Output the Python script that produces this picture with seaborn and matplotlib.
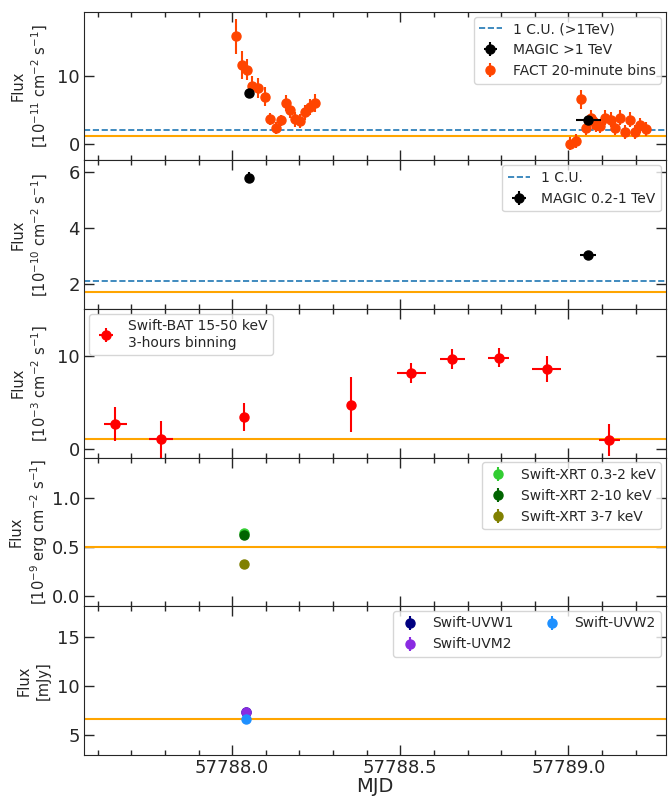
import numpy as np
import pandas as pd
import seaborn as sns
import matplotlib
matplotlib.use('Agg')
import matplotlib.pyplot as plt
from matplotlib.ticker import MultipleLocator, FormatStrFormatter

sns.set_style('ticks')
plt.rcParams['font.family'] = ['DejaVu Sans']

t0 = 57788.0

# FACT >1 TeV, 20-minute bins (flux in 1e-11 cm-2 s-1)
fact_t = [0.011, 0.029, 0.045, 0.060, 0.078, 0.099, 0.114, 0.130, 0.144, 0.159,
          0.173, 0.188, 0.202, 0.216, 0.230, 0.247,
          1.004, 1.022, 1.036, 1.051, 1.068, 1.074, 1.083, 1.095, 1.109, 1.125,
          1.139, 1.154, 1.169, 1.184, 1.199, 1.213, 1.232]
fact_f = [15.8, 11.6, 10.9, 8.5, 8.2, 6.9, 3.6, 2.3, 3.4, 6.0,
          5.0, 3.6, 3.3, 4.6, 5.4, 6.0,
          0.0, 0.4, 6.5, 2.3, 3.8, 3.3, 2.7, 2.6, 3.8, 3.5,
          2.3, 3.8, 1.7, 3.5, 1.7, 2.7, 2.1]
fact_e = [2.6, 2.1, 1.6, 1.4, 1.5, 1.4, 0.9, 0.9, 0.8, 1.2,
          1.3, 1.1, 1.0, 1.1, 1.2, 1.3,
          1.0, 1.0, 1.4, 1.0, 1.2, 1.1, 1.0, 1.0, 1.1, 1.1,
          1.0, 1.1, 1.0, 1.1, 1.0, 1.1, 1.0]

# MAGIC >1 TeV
magic_hi_t = [0.050, 1.059]
magic_hi_f = [7.4, 3.4]
magic_hi_e = [0.3, 0.3]
magic_hi_xe = [0.0, 0.037]

# MAGIC 0.2-1 TeV (1e-10)
magic_lo_t = [0.050, 1.059]
magic_lo_f = [5.81, 3.03]
magic_lo_e = [0.2, 0.08]
magic_lo_xe = [0.0, 0.024]

# Swift-BAT 15-50 keV (1e-3)
bat_t = [-0.348, -0.211, 0.036, 0.354, 0.533, 0.655, 0.792, 0.935, 1.122]
bat_f = [2.7, 1.05, 3.5, 4.8, 8.2, 9.7, 9.85, 8.6, 1.0]
bat_e = [1.8, 2.0, 1.5, 2.95, 1.1, 1.1, 1.0, 1.4, 1.75]
bat_xe = [0.034, 0.036, 0.0, 0.0, 0.044, 0.037, 0.032, 0.043, 0.032]

# Swift-XRT (1e-9 erg cm-2 s-1)
xrt_t = 0.036
xrt_labels = ['Swift-XRT 0.3-2 keV', 'Swift-XRT 2-10 keV', 'Swift-XRT 3-7 keV']
xrt_f = [0.64, 0.62, 0.33]
xrt_colors = ['limegreen', 'darkgreen', 'olive']

# Swift-UVOT (mJy)
uv_t = 0.04
uv_labels = ['Swift-UVW1', 'Swift-UVM2', 'Swift-UVW2']
uv_f = [7.3, 7.35, 6.65]
uv_colors = ['navy', 'blueviolet', 'dodgerblue']

# reference lines
cu_hi = 2.03
cu_lo = 2.1
base = [1.08, 1.71, 1.08, 0.5, 6.66]

ylabels = ['Flux\n[$10^{-11}$ cm$^{-2}$ s$^{-1}$]',
           'Flux\n[$10^{-10}$ cm$^{-2}$ s$^{-1}$]',
           'Flux\n[$10^{-3}$ cm$^{-2}$ s$^{-1}$]',
           'Flux\n[$10^{-9}$ erg cm$^{-2}$ s$^{-1}$]',
           'Flux\n[mJy]']
ylims = [(-2.5, 19.4), (1.1, 6.42), (-0.9, 15.1), (-0.1, 1.41), (3.0, 18.1)]
yticks = [[0, 10], [2, 4, 6], [0, 10], [0.0, 0.5, 1.0], [5, 10, 15]]

fig, axes = plt.subplots(5, 1, figsize=(6.68, 7.96), dpi=100, sharex=True)
plt.subplots_adjust(left=0.126, right=0.997, top=0.985, bottom=0.052, hspace=0)

ebkw = dict(fmt='o', markersize=6.5, elinewidth=1.5, capsize=0)
x = lambda t: t0 + np.asarray(t)
legkw = dict(fontsize=10, handlelength=1.6, borderaxespad=0.35)

ax = axes[0]
ax.axhline(cu_hi, color='tab:blue', ls='--', lw=1.2, label='1 C.U. (>1TeV)')
ax.axhline(base[0], color='orange', lw=1.5)
ax.errorbar(x(magic_hi_t), magic_hi_f, yerr=magic_hi_e, xerr=magic_hi_xe,
            color='black', label='MAGIC >1 TeV', zorder=5, **ebkw)
ax.errorbar(x(fact_t), fact_f, yerr=fact_e, color='orangered',
            label='FACT 20-minute bins', **ebkw)
ax.legend(loc='upper right', **legkw)

ax = axes[1]
ax.axhline(cu_lo, color='tab:blue', ls='--', lw=1.2, label='1 C.U.')
ax.axhline(base[1], color='orange', lw=1.5)
ax.errorbar(x(magic_lo_t), magic_lo_f, yerr=magic_lo_e, xerr=magic_lo_xe,
            color='black', label='MAGIC 0.2-1 TeV', **ebkw)
ax.legend(loc='upper right', **legkw)

ax = axes[2]
ax.axhline(base[2], color='orange', lw=1.5)
ax.errorbar(x(bat_t), bat_f, yerr=bat_e, xerr=bat_xe, color='red',
            label='Swift-BAT 15-50 keV\n3-hours binning', **ebkw)
ax.legend(loc='upper left', **legkw)

ax = axes[3]
ax.axhline(base[3], color='orange', lw=1.5)
for lab, f, c in zip(xrt_labels, xrt_f, xrt_colors):
    ax.errorbar([x(xrt_t)], [f], yerr=[0.01], color=c, label=lab, **ebkw)
ax.legend(loc='upper right', **legkw)

ax = axes[4]
ax.axhline(base[4], color='orange', lw=1.5)
for lab, f, c in zip(uv_labels, uv_f, uv_colors):
    ax.errorbar([x(uv_t)], [f], yerr=[0.1], color=c, label=lab, **ebkw)
ax.legend(loc='upper right', ncol=2, **legkw)
ax.set_xlabel('MJD', fontsize=14, labelpad=0)

for i, ax in enumerate(axes):
    ax.set_ylim(*ylims[i])
    ax.set_yticks(yticks[i])
    ax.set_ylabel(ylabels[i], fontsize=10.5, linespacing=1.3)
    ax.yaxis.set_label_coords(-0.058, 0.5)
    ax.tick_params(axis='both', which='both', direction='in', top=True, right=True,
                   labelsize=13, pad=3)
    ax.tick_params(which='major', length=7, width=1)
    ax.tick_params(which='minor', length=3.5, width=1)
    ax.xaxis.set_minor_locator(MultipleLocator(0.1))
    ax.xaxis.set_major_locator(MultipleLocator(0.5))

axes[-1].set_xlim(57787.56, 57789.29)
axes[-1].xaxis.set_major_formatter(FormatStrFormatter('%.1f'))
axes[0].yaxis.set_major_formatter(FormatStrFormatter('%d'))
axes[3].yaxis.set_major_formatter(FormatStrFormatter('%.1f'))

fig.savefig('out.png', dpi=100)
